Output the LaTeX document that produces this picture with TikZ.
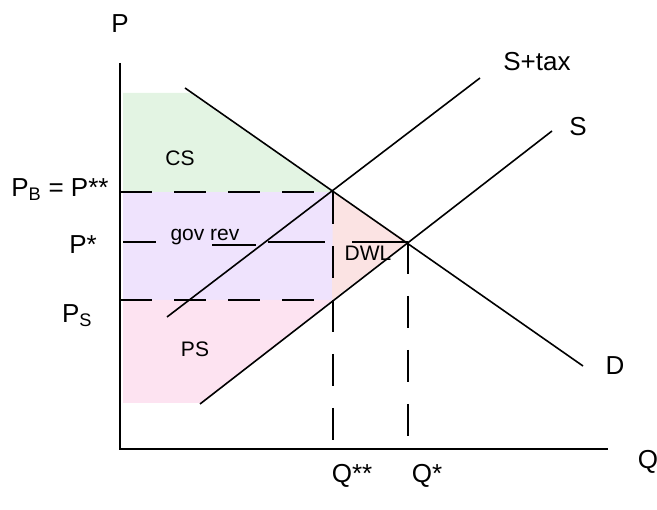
\documentclass[tikz,border=0pt]{standalone}
\usepackage{fontspec}
\setmainfont{Liberation Sans}
\definecolor{cscol}{HTML}{E3F4E3}
\definecolor{govcol}{HTML}{EFE3FD}
\definecolor{pscol}{HTML}{FDE3F1}
\definecolor{dwlcol}{HTML}{FBE3E3}
\begin{document}
\begin{tikzpicture}[x=1pt,y=-1pt,
  lbl/.style={font=\fontsize{26}{26}\selectfont, inner sep=0pt},
  small/.style={font=\fontsize{21}{21}\selectfont, inner sep=0pt},
  curve/.style={line width=1.6pt},
  axis/.style={line width=2pt},
  guide/.style={line width=1.4pt, dash pattern=on 32pt off 22pt},
  seg/.style={line width=1.4pt}]
\useasboundingbox (0,0) rectangle (657,510);
% areas
\fill[cscol] (123,93) -- (190,93) -- (333,192) -- (123,192) -- cycle;
\fill[govcol] (123,192) rectangle (333,300);
\fill[pscol] (123,300) -- (332,300) -- (203,403) -- (123,403) -- cycle;
\fill[dwlcol] (333,192) -- (408,242) -- (332,300) -- cycle;
% coordinates
\coordinate (O) at (120,449);
\coordinate (Ytop) at (120,63);
\coordinate (Xend) at (608,449);
\coordinate (D1) at (185,88);
\coordinate (D2) at (583,366);
\coordinate (T1) at (167,317);
\coordinate (T2) at (480,78);
\coordinate (S1) at (200,404);
\coordinate (S2) at (552,131);
\coordinate (PB0) at (120,192);
\coordinate (PB1) at (333,192);
\coordinate (PS0) at (120,300);
\coordinate (PS1) at (333,300);
\coordinate (QQ0) at (333,449);
\coordinate (Q1) at (408,242);
\coordinate (Q0) at (408,449);
\coordinate (Pa0) at (123,242);
\coordinate (Pa1) at (156,242);
\coordinate (Pb0) at (212,245);
\coordinate (Pb1) at (256,245);
\coordinate (Pc0) at (268,242);
\coordinate (Pc1) at (325,242);
\coordinate (Pd0) at (352,242);
% guides
\draw[guide] (PB0) -- (PB1);
\draw[guide] (PS0) -- (PS1);
\draw[guide] (PB1) -- (QQ0);
\draw[guide] (Q1) -- (Q0);
\draw[seg] (Pa0) -- (Pa1);
\draw[seg] (Pb0) -- (Pb1);
\draw[seg] (Pc0) -- (Pc1);
\draw[seg] (Pd0) -- (Q1);
% curves
\draw[curve] (D1) -- (D2);
\draw[curve] (T1) -- (T2);
\draw[curve] (S1) -- (S2);
% axes
\draw[axis] (Ytop) -- (O) -- (Xend);
% labels
\node[lbl] (lP) at (120,24) {P};
\node[lbl] (lQ) at (648,462) {Q};
\node[lbl] (lST) at (537,62) {S+tax};
\node[lbl] (lS) at (578,127) {S};
\node[lbl] (lD) at (615,366) {D};
\node[lbl] (lQQ) at (352,476) {Q**};
\node[lbl] (lQs) at (427,476) {Q*};
\node[lbl] (lPB) at (60,190) {P\textsubscript{B} = P**};
\node[lbl] (lPs) at (83,245) {P*};
\node[lbl] (lPS) at (77,316) {P\textsubscript{S}};
\node[small] (lCS) at (180,158) {CS};
\node[small] (lGov) at (205,237) {gov rev};
\node[small] (lDWL) at (368,253) {DWL};
\node[small] (lPSa) at (195,349) {PS};
\end{tikzpicture}
\end{document}
